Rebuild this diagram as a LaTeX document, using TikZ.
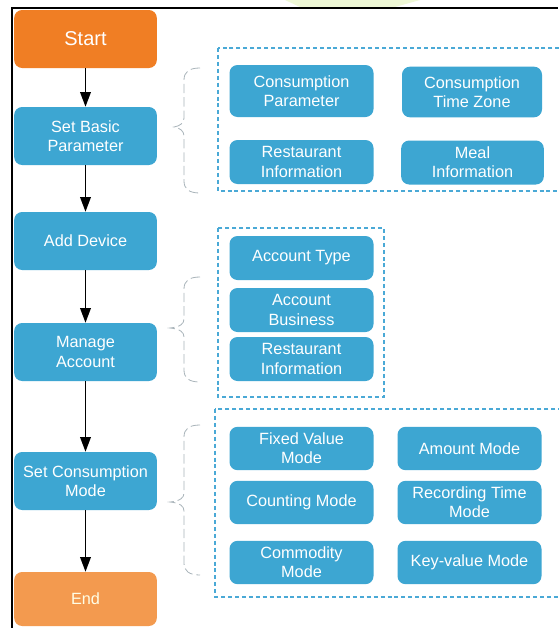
\documentclass[tikz,border=0pt]{standalone}
\usepackage{fontspec}
\setmainfont{Liberation Sans}
\usetikzlibrary{arrows.meta}

\begin{document}
\begin{tikzpicture}[x=0.75pt,y=-0.75pt,
  stepbox/.style={rounded corners=6pt,fill=flowBlue,text=white,align=center,
    minimum width=107pt,minimum height=43.5pt,inner sep=0pt,
    font=\fontsize{12.2}{14.3}\selectfont},
  itembox/.style={stepbox,minimum width=108pt,minimum height=33pt},
  groupbox/.style={draw=groupBlue,line width=1.4pt,dash pattern=on 3pt off 2.2pt},
  braceline/.style={draw=braceGray,line width=0.6pt,dash pattern=on 7pt off 3pt},
  flow/.style={line width=1.1pt,-{Triangle[length=11pt,width=8pt]}}]
\definecolor{flowBlue}{HTML}{3DA6D2}
\definecolor{groupBlue}{HTML}{4AA9D6}
\definecolor{startOrange}{HTML}{F07E24}
\definecolor{endOrange}{HTML}{F39A4F}
\definecolor{braceGray}{HTML}{A9B4BA}
\definecolor{topGreen}{HTML}{EFF8D6}
\useasboundingbox (0,0) rectangle (558,628);
\fill[white] (0,0) rectangle (558,628);
\fill[topGreen] (285,0) -- (420,0) -- (395,7) -- (300,7) -- cycle;
% frame edges
\draw[line width=2.2pt] (12,628) -- (12,8) -- (558,8);

% main flow
\node[stepbox,fill=startOrange,font=\fontsize{15}{17}\selectfont] (start) at (85.5,39) {Start};
\node[stepbox] (basic) at (85.5,136) {Set Basic\\Parameter};
\node[stepbox] (device) at (85.5,241) {Add Device};
\node[stepbox] (account) at (85.5,352) {Manage\\Account};
\node[stepbox] (mode) at (85.5,481) {Set Consumption\\Mode};
\node[stepbox,fill=endOrange,text=white!90!yellow,minimum height=40.5pt] (end) at (85.5,599) {End};
\foreach \a/\b in {start/basic,basic/device,device/account,account/mode,mode/end}
  \draw[flow] (\a) -- (\b);

% groups
\draw[groupbox] (218,48) rectangle (575,191);
\draw[groupbox] (218,228) rectangle (384,397);
\draw[groupbox] (215,409) rectangle (575,597);

% braces
\foreach \t/\m/\b/\tip in {68/127/193/174,277/328/382/170,425/502/575/170} {
  \draw[braceline] (200,\t) .. controls (189,\t) and (184,\t+4) .. (184,\t+12)
    -- (184,\m-9) .. controls (184,\m-4) and (180,\m-1) .. (\tip,\m)
    .. controls (180,\m+1) and (184,\m+4) .. (184,\m+9)
    -- (184,\b-12) .. controls (184,\b-4) and (189,\b) .. (200,\b);
}

% basic parameter items
\node[itembox,minimum height=39pt] (cparam) at (301.5,91) {Consumption\\Parameter};
\node[itembox,minimum width=105pt,minimum height=38pt] (czone) at (472,92) {Consumption\\Time Zone};
\node[itembox] (restinfo) at (301.5,162) {Restaurant\\Information};
\node[itembox,minimum width=107pt] (mealinfo) at (472.5,162.5) {Meal\\Information};

% account items
\node[itembox] (acctype) at (301.5,258) {Account Type};
\node[itembox] (accbiz) at (301.5,310) {Account\\Business};
\node[itembox] (accrest) at (301.5,359) {Restaurant\\Information};

% consumption mode items
\node[itembox,minimum height=32.5pt] (fixed) at (301.5,448.5) {Fixed Value\\Mode};
\node[itembox,minimum height=32.5pt] (amount) at (469.5,448.5) {Amount Mode};
\node[itembox,minimum height=32.5pt] (counting) at (301.5,502.5) {Counting Mode};
\node[itembox,minimum height=32.5pt] (recording) at (469.5,502.5) {Recording Time\\Mode};
\node[itembox,minimum height=32.5pt] (commodity) at (301.5,562.5) {Commodity\\Mode};
\node[itembox,minimum height=32.5pt] (keyvalue) at (469.5,562.5) {Key-value Mode};
\end{tikzpicture}
\end{document}
